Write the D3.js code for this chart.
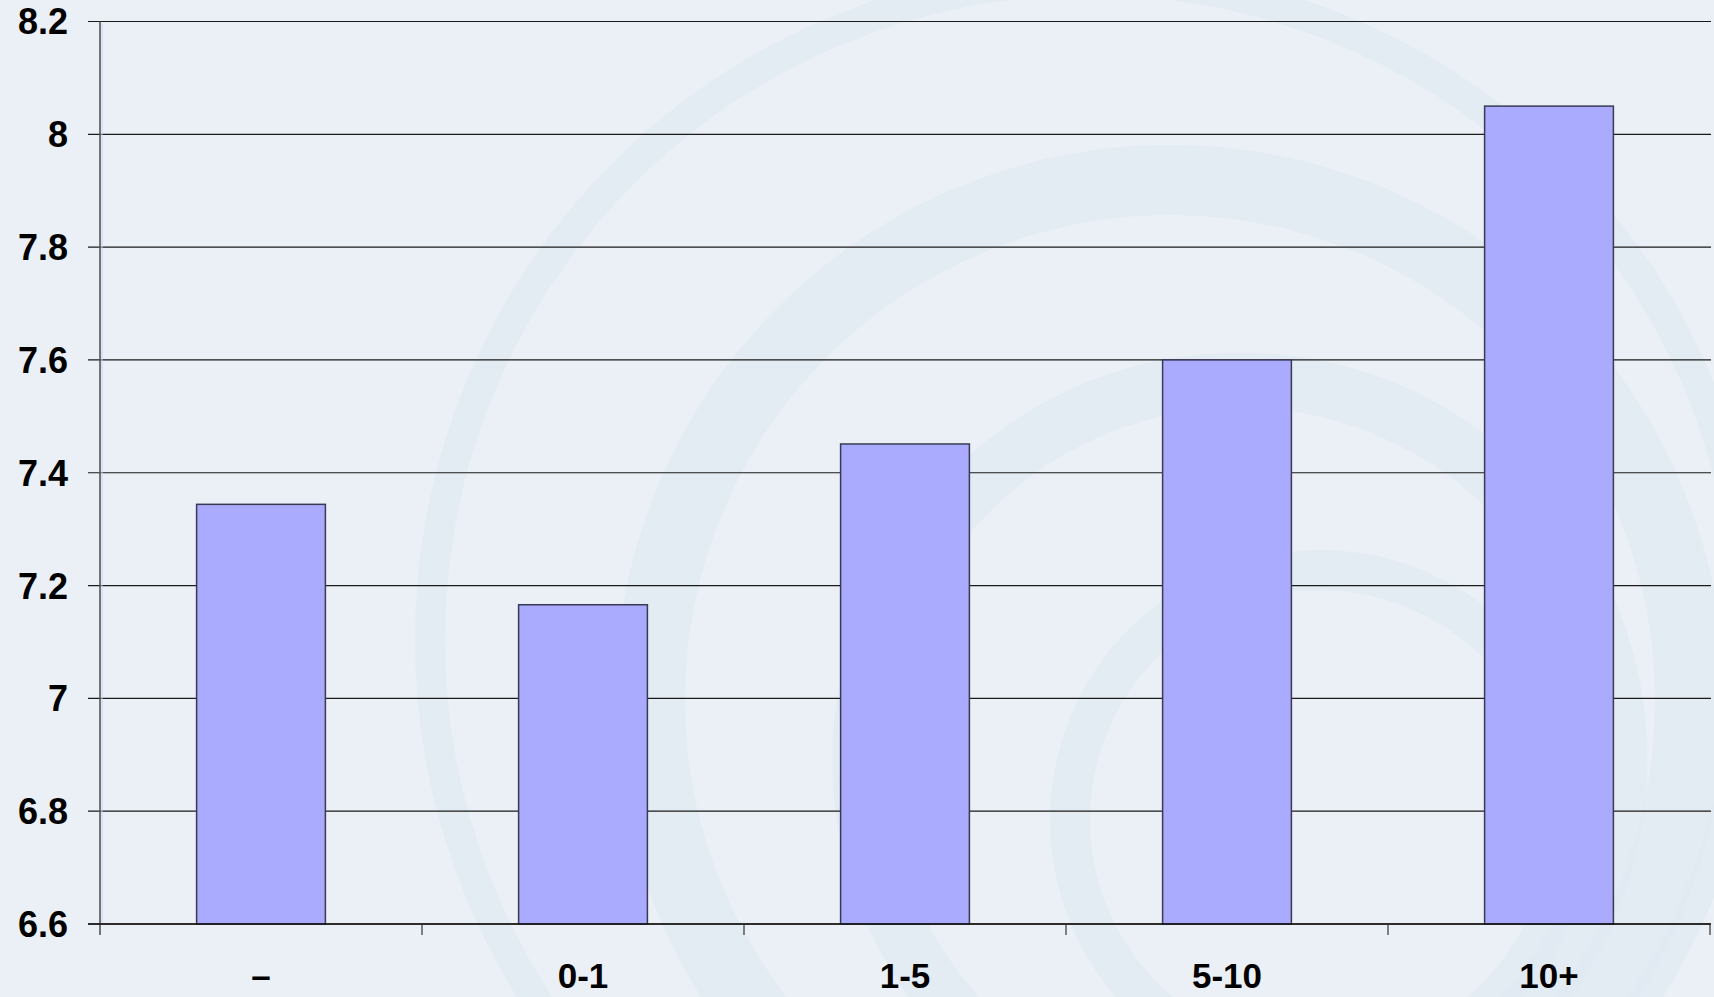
<!DOCTYPE html>
<html>
<head>
<meta charset="utf-8">
<script src="https://cdn.jsdelivr.net/npm/d3@7"></script>
<style>
  html, body { margin: 0; padding: 0; background: #eaf0f5; }
  svg { display: block; }
  text { font-family: "Liberation Sans", Arial, sans-serif; font-weight: bold; fill: #000; }
</style>
</head>
<body>
<svg width="1714" height="997"></svg>
<script>
const categories = ['\u2013', '0-1', '1-5', '5-10', '10+'];
const values = [7.344, 7.166, 7.451, 7.6, 8.05];
const yTicks = [6.6, 6.8, 7, 7.2, 7.4, 7.6, 7.8, 8, 8.2];

const svg = d3.select('svg'),
      width = +svg.attr('width'),
      height = +svg.attr('height');

const plotLeft = 100, plotRight = 1711, plotTop = 21.5, plotBottom = 924;

// faint background swirl
const wm = svg.append('g').attr('fill', 'none');
[[1170, 700, 520, 70], [1240, 760, 380, 55], [1320, 820, 250, 40], [1090, 640, 660, 30]].forEach(c => {
  wm.append('circle')
    .attr('cx', c[0]).attr('cy', c[1]).attr('r', c[2])
    .attr('stroke', '#e0e9f2').attr('stroke-width', c[3]).attr('opacity', 0.6);
});

const x = d3.scaleBand()
  .domain(categories)
  .range([plotLeft, plotRight - 1])
  .paddingInner(0.6)
  .paddingOuter(0.3);

const y = d3.scaleLinear()
  .domain([6.6, 8.2])
  .range([plotBottom, plotTop]);

// gridlines
svg.append('g')
  .selectAll('line')
  .data(yTicks)
  .enter().append('line')
  .attr('x1', plotLeft - 12)
  .attr('x2', plotRight)
  .attr('y1', d => y(d))
  .attr('y2', d => y(d))
  .attr('stroke', '#1a1a1a')
  .attr('stroke-width', 1.2);

// y labels
svg.append('g')
  .selectAll('text')
  .data(yTicks)
  .enter().append('text')
  .attr('x', 68)
  .attr('y', d => y(d))
  .attr('dy', '0.36em')
  .attr('text-anchor', 'end')
  .attr('font-size', 36)
  .text(d => d3.format('~g')(d));

// bars
svg.append('g')
  .selectAll('rect')
  .data(values)
  .enter().append('rect')
  .attr('x', (d, i) => x(categories[i]))
  .attr('y', d => y(d))
  .attr('width', x.bandwidth())
  .attr('height', d => plotBottom - y(d))
  .attr('fill', '#aaaaff')
  .attr('stroke', '#3a3a55')
  .attr('stroke-width', 1.5);

// y axis line
svg.append('line')
  .attr('x1', plotLeft).attr('x2', plotLeft)
  .attr('y1', plotTop).attr('y2', plotBottom + 11)
  .attr('stroke', '#555')
  .attr('stroke-width', 1.6);
svg.append('line')
  .attr('x1', plotLeft + 2).attr('x2', plotLeft + 2)
  .attr('y1', plotTop + 2).attr('y2', plotBottom)
  .attr('stroke', '#c8d2ff')
  .attr('stroke-width', 1);

// x axis line and ticks
svg.append('line')
  .attr('x1', plotLeft - 12).attr('x2', plotRight)
  .attr('y1', plotBottom).attr('y2', plotBottom)
  .attr('stroke', '#111')
  .attr('stroke-width', 1.5);

const step = x.step();
svg.append('g')
  .selectAll('line')
  .data(d3.range(1, categories.length + 1))
  .enter().append('line')
  .attr('x1', i => plotLeft + i * step)
  .attr('x2', i => plotLeft + i * step)
  .attr('y1', plotBottom)
  .attr('y2', plotBottom + 11)
  .attr('stroke', '#333')
  .attr('stroke-width', 1.2);

// x labels
svg.append('g')
  .selectAll('text')
  .data(categories)
  .enter().append('text')
  .attr('x', d => x(d) + x.bandwidth() / 2)
  .attr('y', 988)
  .attr('text-anchor', 'middle')
  .attr('font-size', 35)
  .text(d => d);
</script>
</body>
</html>
